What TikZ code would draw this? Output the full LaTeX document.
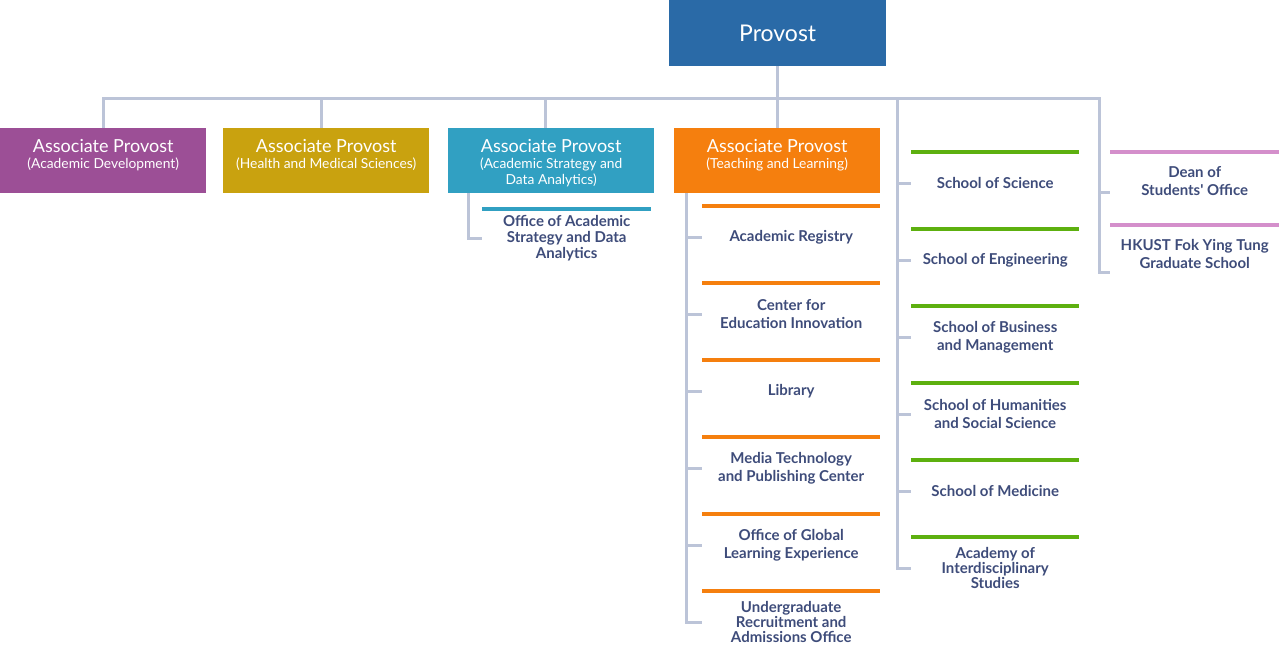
\documentclass[tikz,border=0pt]{standalone}
\usepackage{fontspec}
\setmainfont{Lato}
\usetikzlibrary{positioning}
\definecolor{provblue}{HTML}{2A6AA7}
\definecolor{appurple}{HTML}{9C4F96}
\definecolor{apmustard}{HTML}{C9A20F}
\definecolor{apteal}{HTML}{31A0C2}
\definecolor{aporange}{HTML}{F57F0E}
\definecolor{schgreen}{HTML}{5DB00F}
\definecolor{deanpink}{HTML}{D48FCB}
\definecolor{linkgray}{HTML}{BCC4D8}
\definecolor{unittext}{HTML}{3E4C7A}
\newcommand{\unitbar}[2]{\draw[line width=4pt,#2] (#1.north west) -- (#1.north east);}
\newcommand{\aptitle}{\fontsize{18}{16}\selectfont}
\tikzset{
  provbox/.style={fill=provblue,text=white,minimum width=217pt,minimum height=66pt,
    inner sep=0pt,anchor=north west,font=\fontsize{23}{27}\selectfont},
  apbox/.style={minimum width=206pt,minimum height=65pt,inner sep=0pt,anchor=north west},
  aptext/.style={text=white,align=center,inner sep=0pt,anchor=north,
    font=\fontsize{13.8}{16}\selectfont},
  unit/.style={minimum width=178pt,minimum height=62pt,inner sep=0pt,anchor=north west,
    align=center,text=unittext,font=\fontsize{15}{18}\selectfont\bfseries},
  school/.style={unit,minimum width=168pt},
  office/.style={unit,minimum width=169pt,minimum height=58pt},
  tight/.style={font=\fontsize{15}{15}\selectfont\bfseries},
  link/.style={draw=linkgray,line width=3pt},
}
\begin{document}
\begin{tikzpicture}[x=1pt,y=-1pt]
\useasboundingbox (0,0) rectangle (1280,654);
% provost and associate provosts
\node[provbox] (prov) at (669,0) {Provost};
\node[apbox,fill=appurple] (ap1) at (0,128) {};
\node[apbox,fill=apmustard] (ap2) at (223,128) {};
\node[apbox,fill=apteal] (ap3) at (448,128) {};
\node[apbox,fill=aporange] (ap4) at (674,128) {};
\node[aptext] (ap1t) at ([yshift=-11pt]ap1.north) {{\aptitle Associate Provost}\\(Academic Development)};
\node[aptext] (ap2t) at ([yshift=-11pt]ap2.north) {{\aptitle Associate Provost}\\(Health and Medical Sciences)};
\node[aptext] (ap3t) at ([yshift=-11pt]ap3.north) {{\aptitle Associate Provost}\\(Academic Strategy and\\Data Analytics)};
\node[aptext] (ap4t) at ([yshift=-11pt]ap4.north) {{\aptitle Associate Provost}\\(Teaching and Learning)};
% offices under the associate provosts
\node[office,font=\fontsize{15}{16}\selectfont\bfseries] (osda) at (482,209) {Office of Academic\\Strategy and Data\\Analytics};
\node[unit] (reg) at (702,206) {Academic Registry};
\node[unit] (cei) at (702,283) {Center for\\Education Innovation};
\node[unit] (lib) at (702,360) {Library};
\node[unit] (mtpc) at (702,437) {Media Technology\\and Publishing Center};
\node[unit] (ogle) at (702,514) {Office of Global\\Learning Experience};
\node[unit,tight] (urao) at (702,591) {Undergraduate\\Recruitment and\\Admissions Office};
% schools
\node[school] (sci) at (911,152) {School of Science};
\node[school] (eng) at (911,229) {School of Engineering};
\node[school] (sbm) at (911,306) {School of Business\\and Management};
\node[school] (shss) at (911,383) {School of Humanities\\and Social Science};
\node[school] (med) at (911,460) {School of Medicine};
\node[school,tight] (ais) at (911,537) {Academy of\\Interdisciplinary\\Studies};
% dean and graduate school
\node[office] (dso) at (1110,152) {Dean of\\Students\textquotesingle\ Office};
\node[office] (grad) at (1110,225) {HKUST Fok Ying Tung\\Graduate School};
% coloured bars
\unitbar{osda}{apteal}
\foreach \u in {reg,cei,lib,mtpc,ogle,urao} {\unitbar{\u}{aporange}}
\foreach \s in {sci,eng,sbm,shss,med,ais} {\unitbar{\s}{schgreen}}
\unitbar{dso}{deanpink}\unitbar{grad}{deanpink}
% links
\coordinate (busR) at (1099,98);
\coordinate (sbus) at (897,98);
\draw[link] (ap1.north) |- ([xshift=1.5pt]busR);
\draw[link] (prov.south) -- (prov.south |- busR);
\draw[link] ([xshift=-5pt]ap2.north) -- ([xshift=-5pt]ap2.north |- busR);
\draw[link] ([xshift=-6pt]ap3.north) -- ([xshift=-6pt]ap3.north |- busR);
\draw[link] (ap4.north) -- (ap4.north |- busR);
\draw[link] ([xshift=20pt]ap3.south west) |- (osda.west);
\foreach \u in {reg,cei,lib,mtpc,ogle,urao} {\draw[link] ([xshift=12pt]ap4.south west) |- (\u.west);}
\foreach \s in {sci,eng,sbm,shss,med,ais} {\draw[link] (sbus) |- (\s.west);}
\draw[link] (busR) |- ([yshift=-11pt]dso.west);
\draw[link] (busR) |- ([yshift=-18pt]grad.west);
\end{tikzpicture}
\end{document}
